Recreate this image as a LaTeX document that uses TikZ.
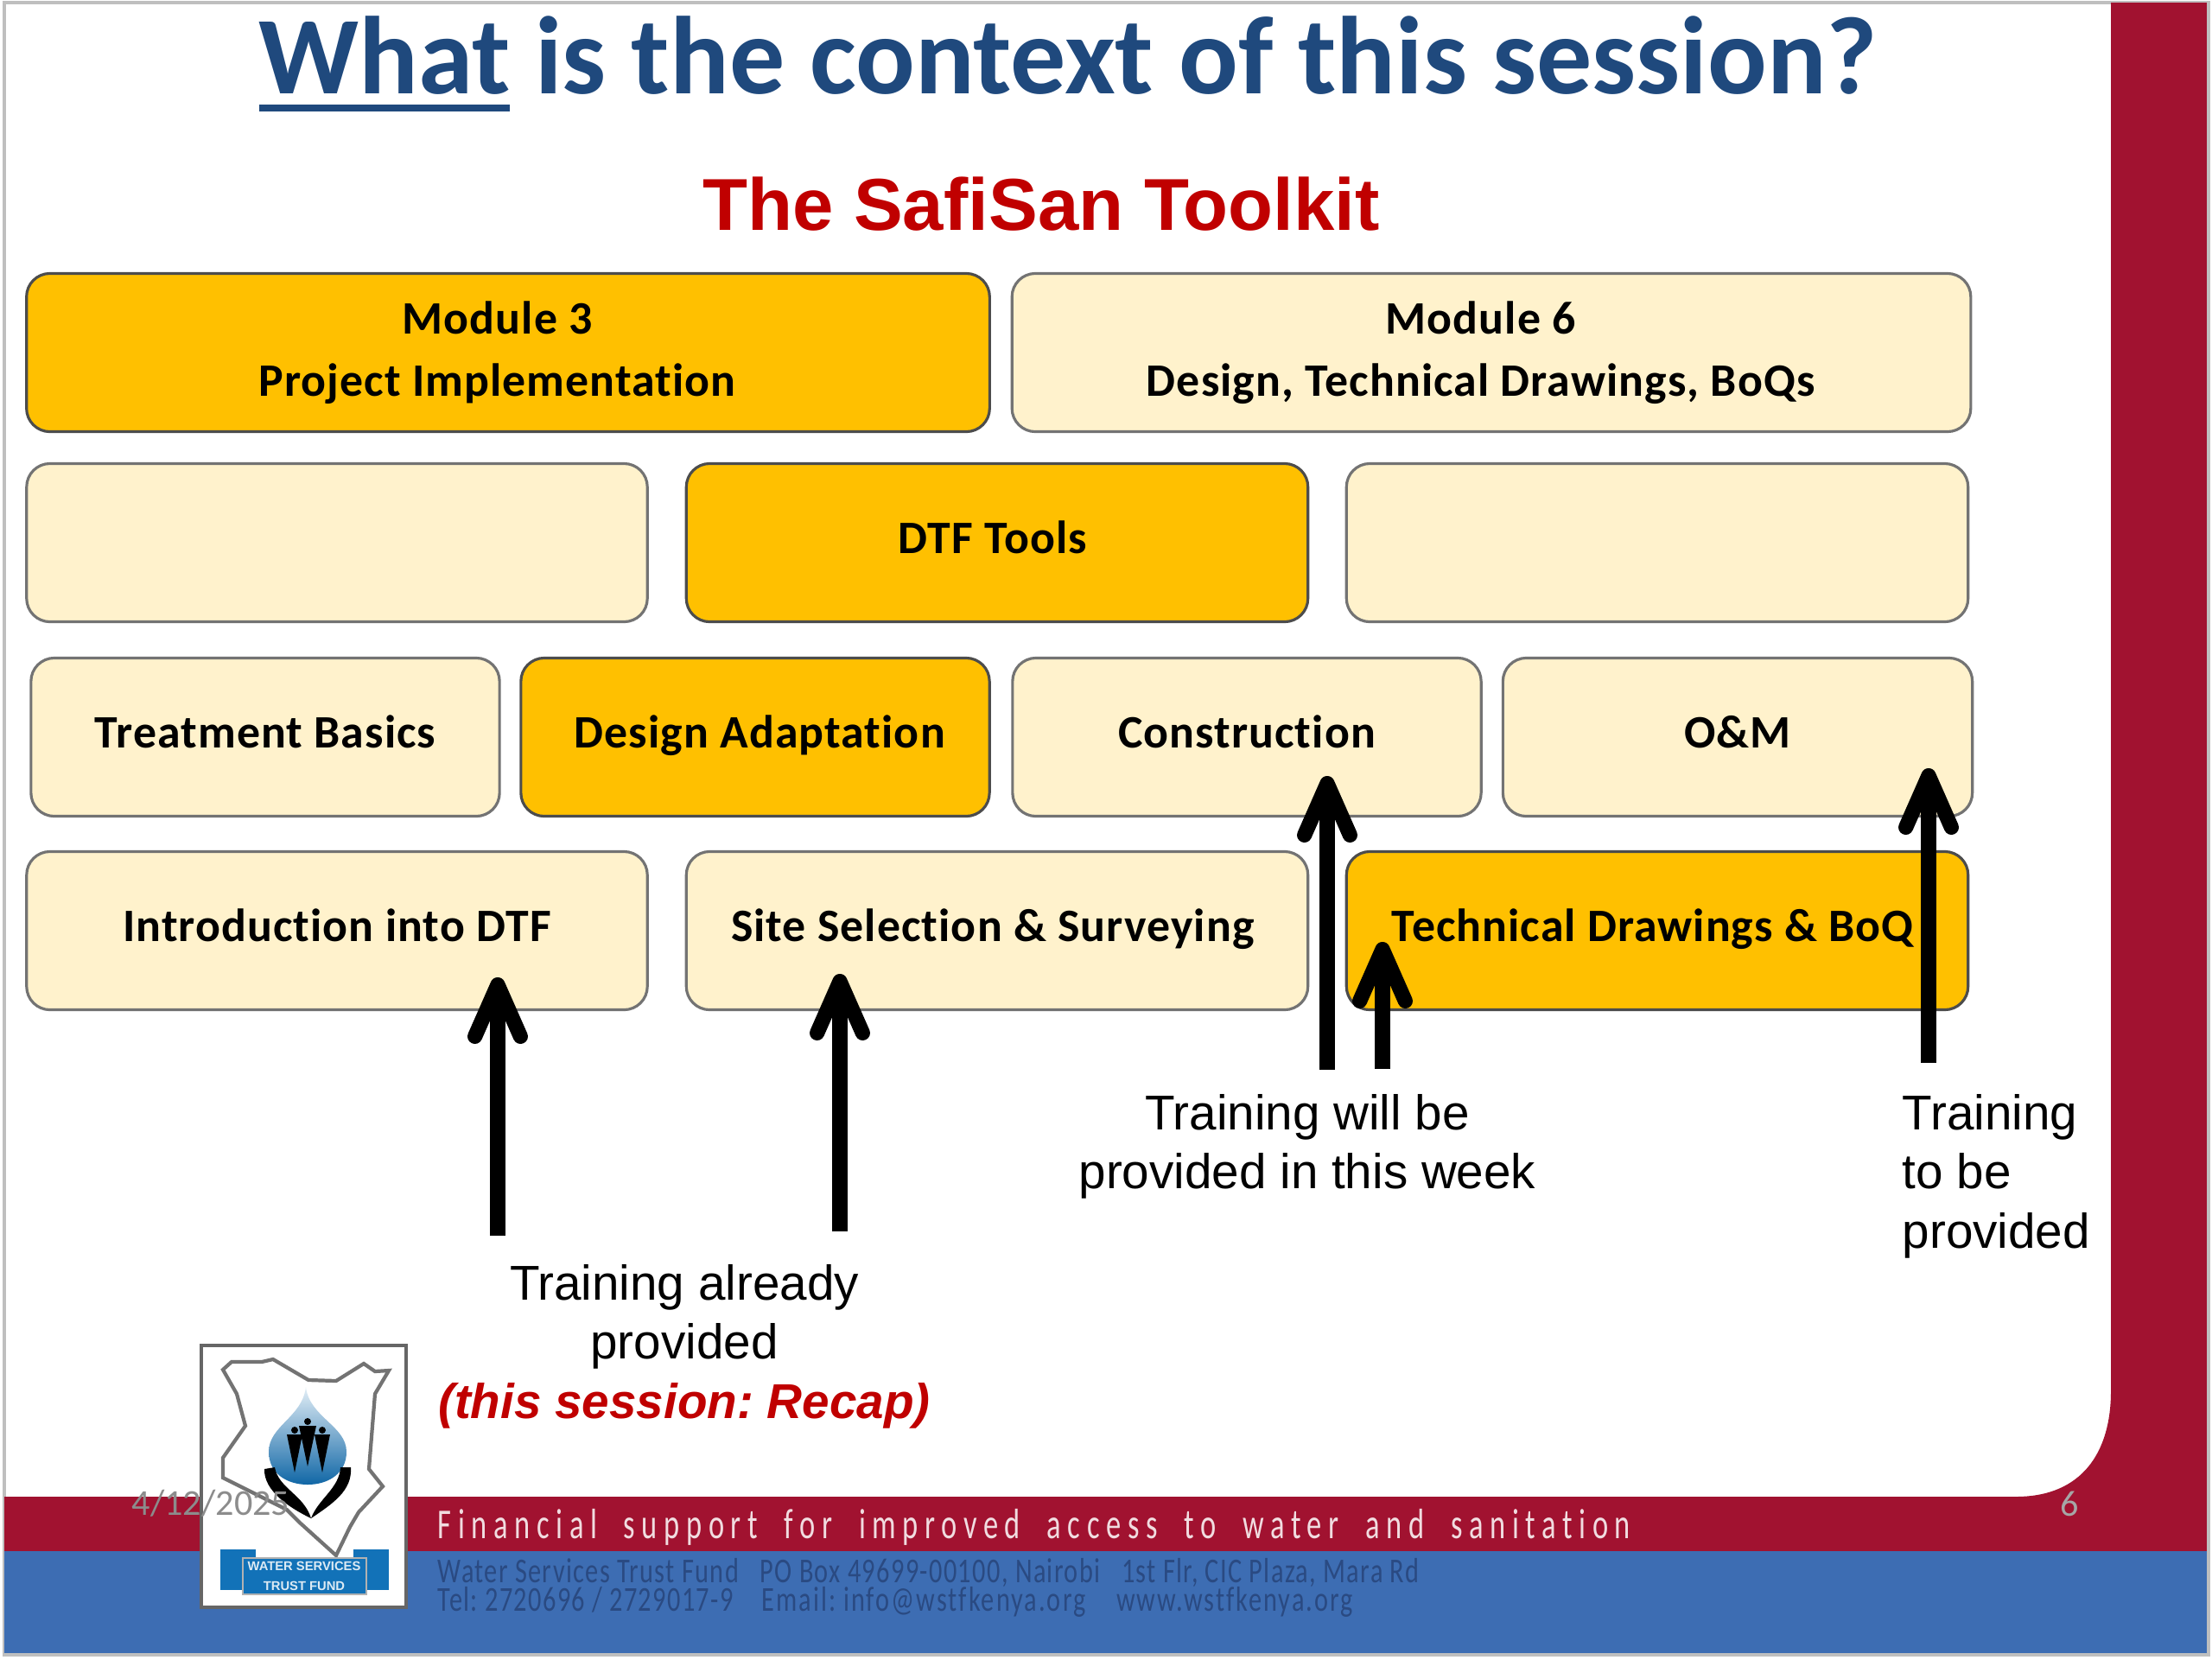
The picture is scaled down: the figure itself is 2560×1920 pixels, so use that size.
\documentclass[tikz,border=0pt]{standalone}
\usepackage{fontspec}
\setmainfont{Liberation Sans}
\newfontfamily\carlito[Ligatures=CommonOff]{Carlito}
\usetikzlibrary{arrows.meta}
\definecolor{slidered}{HTML}{A11230}
\definecolor{slideblue}{HTML}{3D6DB3}
\definecolor{titleblue}{HTML}{1F497D}
\definecolor{headred}{HTML}{C00000}
\definecolor{amber}{HTML}{FFC000}
\definecolor{cream}{HTML}{FFF2CC}
\definecolor{inkblue}{HTML}{2A4A82}
\definecolor{ribbon}{HTML}{1272B8}
\begin{document}
\frenchspacing
\begin{tikzpicture}[x=0.01cm,y=-0.01cm,
    toolbox/.style={draw=black!55,line width=0.9pt,rounded corners=0.27cm,minimum height=1.83cm,inner sep=0pt,
        align=center,font=\carlito\bfseries\fontsize{15.3}{20.5}\selectfont\addfontfeature{LetterSpace=2},fill=cream},
    doing/.style={toolbox,draw=black!70,fill=amber},
    oneline/.style={execute at begin node={\rule[-5.8pt]{0pt}{18.8pt}}},
    twoline/.style={execute at begin node={\rule{0pt}{21pt}}},
    upward/.style={line width=4.9pt,-{Straight Barb[round,length=17pt,width=15pt]}},
    callout/.style={font=\fontsize{16.1}{19.5}\selectfont,align=center},
    address/.style={anchor=north west,inner sep=0pt,text=inkblue,font=\carlito\fontsize{11.5}{13}\selectfont\addfontfeature{FakeStretch=0.75,LetterSpace=3.4}}]
    \useasboundingbox (0,0) rectangle (2560,1920);
    % slide frame
    \draw[black!25,line width=1pt,fill=white] (5,3) rectangle (2556,1915);
    \fill[slidered] (2443,3) rectangle (2554,1795);
    \fill[slidered] (5,1732) rectangle (2554,1795);
    \fill[slidered] (2443,1610) .. controls (2443,1680) and (2410,1732) .. (2333,1732) -- (2443,1732) -- cycle;
    \fill[slideblue] (5,1795) rectangle (2554,1913);
    % headings
    \node[text=titleblue,font=\carlito\bfseries\fontsize{36.4}{40}\selectfont] (title) at (1236,64) {What is the context of this session?};
    \fill[titleblue] (300,121) rectangle (590,129);
    \node[text=headred,font=\bfseries\fontsize{24.2}{28}\selectfont] (toolkit) at (1205,236) {The SafiSan Toolkit};
    % modules
    \node[doing,twoline,minimum width=11.14cm] (modthree) at (588,408) {Module 3\hspace*{7pt}\\Project Implementation\hspace*{7pt}};
    \node[toolbox,twoline,minimum width=11.09cm] (modsix) at (1726,408) {Module 6\hspace*{7pt}\\Design, Technical Drawings, BoQs\hspace*{7pt}};
    % second row
    \node[toolbox,minimum width=7.18cm] (blankleft) at (390,628) {};
    \node[doing,oneline,minimum width=7.19cm] (dtftools) at (1154,628) {DTF Tools\hspace*{3pt}};
    \node[toolbox,minimum width=7.19cm] (blankright) at (1918,628) {};
    % third row
    \node[toolbox,oneline,minimum width=5.42cm] (basics) at (307,853) {Treatment Basics};
    \node[doing,oneline,minimum width=5.42cm] (adaptation) at (874,853) {\hspace*{3pt}Design Adaptation};
    \node[toolbox,oneline,minimum width=5.42cm] (construction) at (1443,853) {Construction};
    \node[toolbox,oneline,minimum width=5.43cm] (om) at (2011,853) {O\&M};
    % fourth row
    \node[toolbox,oneline,minimum width=7.18cm] (intro) at (390,1077) {Introduction into DTF};
    \node[toolbox,oneline,minimum width=7.19cm] (site) at (1154,1077) {Site Selection \& Surveying\hspace*{3pt}};
    \node[doing,oneline,minimum width=7.19cm] (drawings) at (1918,1077) {Technical Drawings \& BoQ\hspace*{3pt}};
    % training labels
    \node[callout] (already) at (792,1558) {Training already\\provided\\{\color{headred}\bfseries\itshape(this session: Recap)}};
    \node[callout] (thisweek) at (1513,1327) {Training will be\\provided in this week};
    \node[callout,align=left,anchor=west,inner sep=0pt] (tobe) at (2201,1361) {Training\\to be\\provided};
    % arrows
    \coordinate (introtail) at (576,1430);
    \coordinate (introtip) at (576,1131);
    \coordinate (sitetail) at (972,1425);
    \coordinate (sitetip) at (972,1127);
    \coordinate (constail) at (1536,1238);
    \coordinate (constip) at (1536,898);
    \coordinate (drawtail) at (1600,1237);
    \coordinate (drawtip) at (1600,1090);
    \coordinate (omtail) at (2232,1230);
    \coordinate (omtip) at (2232,889);
    \draw[upward] (introtail) -- (introtip);
    \draw[upward] (sitetail) -- (sitetip);
    \draw[upward] (constail) -- (constip);
    \draw[upward] (drawtail) -- (drawtip);
    \draw[upward] (omtail) -- (omtip);
    % logo
    \draw[black!60,line width=1.2pt,fill=white] (233,1557) rectangle (470,1860);
    \draw[black!55,line width=1.2pt] (258,1585) -- (268,1576) -- (303,1576) -- (316,1573) -- (357,1597) -- (389,1598) -- (421,1578) -- (434,1587) -- (450,1586) -- (434,1613) -- (427,1700) -- (443,1720) -- (415,1750) -- (405,1767) -- (389,1800) -- (348,1763) -- (332,1747) -- (258,1710) -- (258,1687) -- (284,1650) -- (274,1613) -- cycle;
    \shade[top color=ribbon!12,bottom color=ribbon!90!black] (354,1605) .. controls (358,1640) and (401,1650) .. (401,1680) .. controls (401,1705) and (380,1718) .. (356,1718) .. controls (332,1718) and (311,1705) .. (311,1680) .. controls (311,1650) and (350,1640) .. (354,1605) -- cycle;
    \fill (341,1655) circle (4);
    \fill (356,1645) circle (4);
    \fill (373,1655) circle (4);
    \fill (332,1660) -- (350,1660) -- (341,1704) -- cycle;
    \fill (346,1650) -- (366,1650) -- (356,1697) -- cycle;
    \fill (364,1660) -- (382,1660) -- (373,1704) -- cycle;
    \fill (306,1700) .. controls (305,1725) and (335,1745) .. (360,1757) .. controls (352,1730) and (322,1722) .. (318,1698) -- cycle;
    \fill (406,1698) .. controls (408,1725) and (385,1740) .. (360,1757) .. controls (368,1735) and (393,1722) .. (394,1698) -- cycle;
    \fill[ribbon] (255,1793) rectangle (296,1840);
    \fill[ribbon] (409,1793) rectangle (450,1840);
    \draw[black!30,fill=ribbon] (281,1803) rectangle (424,1845);
    \node[text=white!85!ribbon,align=center,font=\bfseries\fontsize{4.2}{6.5}\selectfont] (banner) at (352,1824) {WATER SERVICES\\TRUST FUND};
    % footer
    \node[anchor=west,inner sep=0pt,text=white!85!slidered,font=\carlito\fontsize{14}{16}\selectfont\addfontfeature{FakeStretch=0.7,LetterSpace=15.5}] (strapline) at (506,1767) {Financial\ \ support\ \ for\ \ improved\ \ access\ \ to\ \ water\ \ and\ \ sanitation};
    \node[address] (addressa) at (506,1803) {Water Services Trust Fund\ \ \ PO Box 49699-00100, Nairobi\ \ \ 1st Flr, CIC Plaza, Mara Rd};
    \node[address] (addressb) at (506,1836) {Tel: 2720696 / 2729017-9\ \ \ \ {\addfontfeature{LetterSpace=5}Email: info@wstfkenya.org\ \ \ \ www.wstfkenya.org}};
    \node[text=black!45,font=\carlito\fontsize{12}{14}\selectfont] (date) at (244,1740) {4/12/2025};
    \node[text=black!35,font=\carlito\fontsize{12}{14}\selectfont] (slideno) at (2395,1740) {6};
\end{tikzpicture}
\end{document}
